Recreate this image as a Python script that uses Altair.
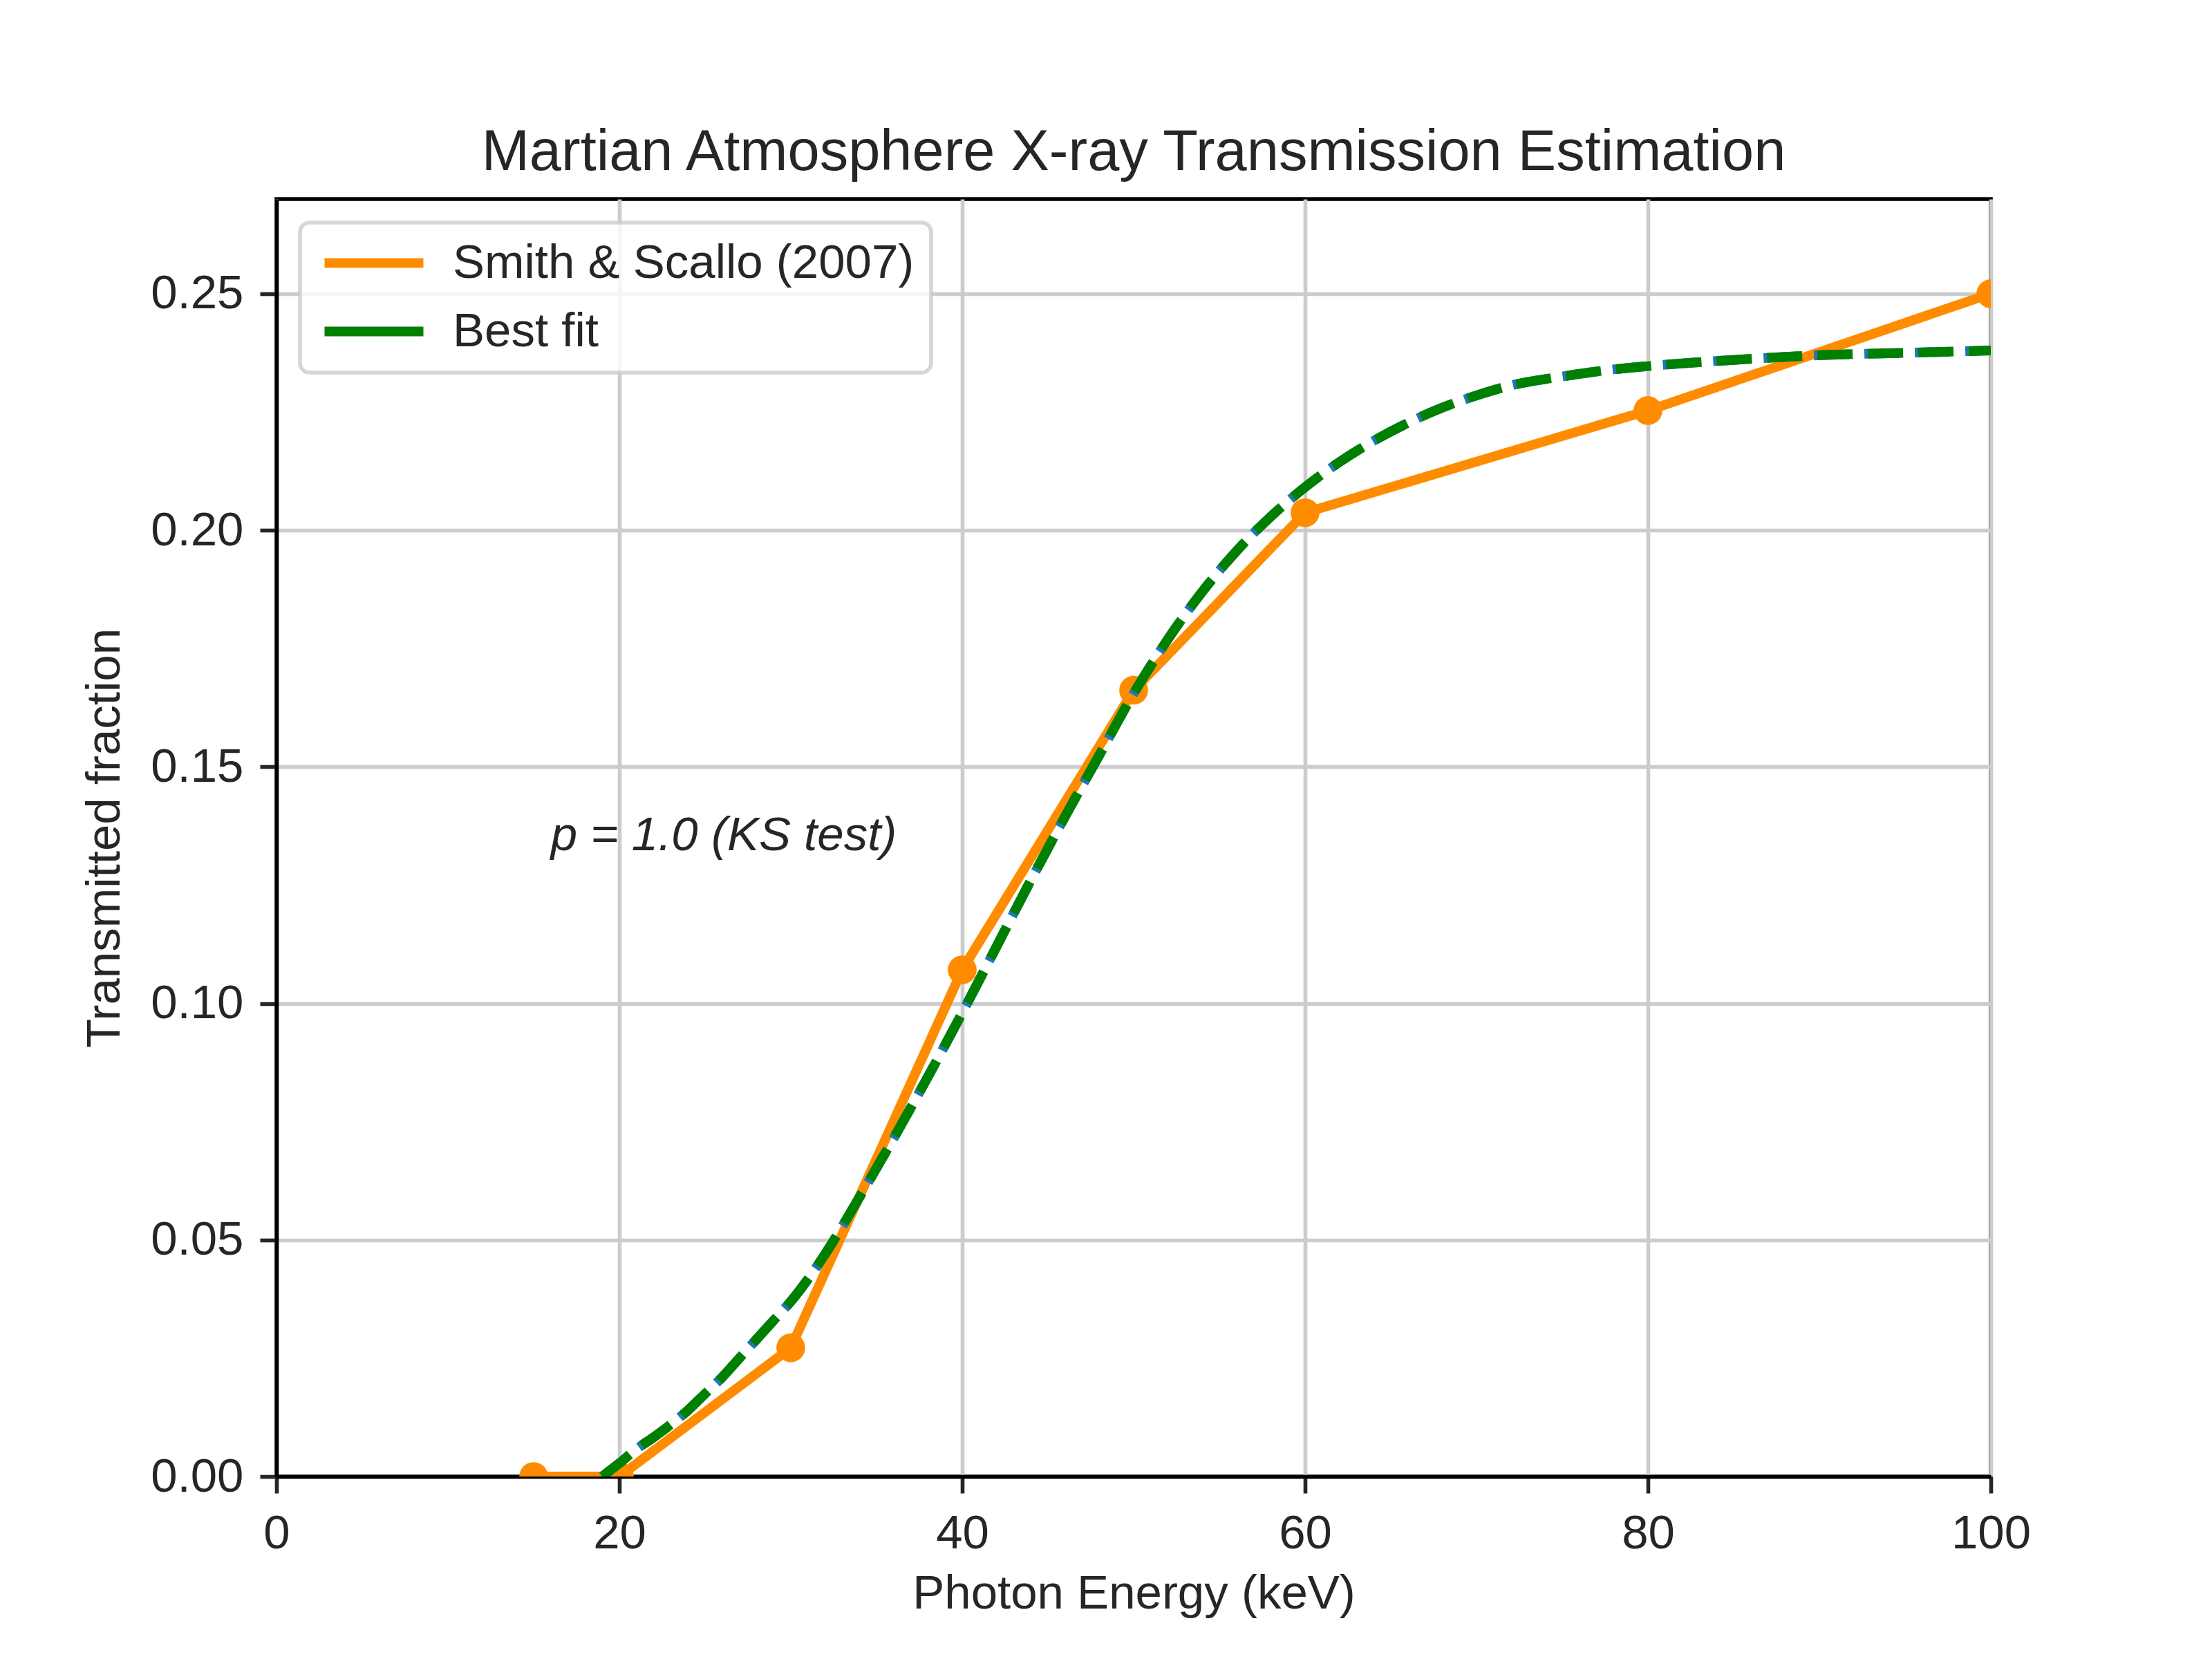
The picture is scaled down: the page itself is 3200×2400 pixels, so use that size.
import altair as alt
import pandas as pd

# ---- data ----
energy_kev = [15, 20, 30, 40, 50, 60, 80, 100]
transmitted = [0.0, 0.0, 0.0272, 0.1071, 0.1662, 0.2037, 0.2253, 0.2500]

fit_energy = [19, 20, 21, 22, 23, 24, 25, 26, 27, 28, 29, 30, 32, 34, 36, 38, 40,
              42, 44, 46, 48, 50, 52, 54, 56, 58, 60, 62, 64, 66, 68, 70, 72, 75,
              78, 80, 85, 90, 95, 100]
fit_transmitted = [0.0, 0.0028, 0.0058, 0.0083, 0.011, 0.014, 0.0175, 0.021, 0.025,
                   0.029, 0.033, 0.037, 0.047, 0.059, 0.0715, 0.0845, 0.098, 0.112,
                   0.126, 0.1395, 0.1525, 0.1655, 0.177, 0.187, 0.1956, 0.2029,
                   0.2091, 0.2144, 0.2189, 0.2227, 0.2259, 0.2285, 0.2306, 0.2325,
                   0.234, 0.2347, 0.236, 0.237, 0.2375, 0.238]

series_names = ["Smith & Scallo (2007)", "Best fit"]
series_colors = ["#ff8c00", "#008000"]
under_color = "#1f77b4"

x_ticks = [0, 20, 40, 60, 80, 100]
y_ticks = [0.0, 0.05, 0.10, 0.15, 0.20, 0.25]

title_text = "Martian Atmosphere X-ray Transmission Estimation"
x_title = "Photon Energy (keV)"
y_title = "Transmitted fraction"
note_text = ["p = 1.0 (KS test)"]
note_x = [16]
note_y = [0.1323]

FONT = "Liberation Sans, Arial, Helvetica, sans-serif"
TXT = "#262626"

obs = pd.DataFrame({"energy": energy_kev, "value": transmitted,
                    "series": [series_names[0]] * len(energy_kev)})
fit = pd.DataFrame({"energy": fit_energy, "value": fit_transmitted})
note = pd.DataFrame({"energy": note_x, "value": note_y, "label": note_text})

x_enc = alt.X("energy:Q",
              scale=alt.Scale(domain=[0, 100], nice=False, zero=False),
              axis=alt.Axis(values=x_ticks, format="d", title=x_title, titlePadding=18,
                            labelFlush=False))
y_enc = alt.Y("value:Q",
              scale=alt.Scale(domain=[0, 0.27], nice=False, zero=False),
              axis=alt.Axis(values=y_ticks, format=".2f", title=y_title, titlePadding=31,
                            labelFlush=False))

obs_line = alt.Chart(obs).mark_line(strokeWidth=14, strokeJoin="round", clip=True).encode(
    x=x_enc, y=y_enc,
    color=alt.Color("series:N",
                    scale=alt.Scale(domain=series_names, range=series_colors),
                    legend=alt.Legend(title=None, orient="top-left", offset=34, padding=24,
                                      fillColor="rgba(255,255,255,0.8)",
                                      strokeColor="rgba(204,204,204,0.8)",
                                      cornerRadius=14, symbolType="M-4,0H4",
                                      symbolSize=1278, symbolStrokeWidth=14,
                                      symbolOffset=48.5, symbolDash=[4000, 1],
                                      symbolOpacity=1,
                                      labelFontSize=69, labelFont=FONT, labelColor=TXT,
                                      labelOffset=79.5, rowPadding=29, labelLimit=3000)),
)

obs_pts = alt.Chart(obs).mark_circle(size=1736, opacity=1, color=series_colors[0],
                                     clip=True).encode(x="energy:Q", y="value:Q")

fit_under = alt.Chart(fit).mark_line(color=under_color, strokeWidth=14,
                                     strokeDashOffset=5, interpolate="monotone",
                                     clip=True).encode(
    x="energy:Q", y="value:Q", strokeDash=alt.value([51, 22]))
fit_line = alt.Chart(fit).mark_line(color=series_colors[1], strokeWidth=14,
                                    interpolate="monotone", clip=True).encode(
    x="energy:Q", y="value:Q", strokeDash=alt.value([51, 22]))

note_mark = alt.Chart(note).mark_text(align="left", baseline="alphabetic",
                                      fontStyle="italic", fontSize=69, font=FONT,
                                      color=TXT).encode(
    x="energy:Q", y="value:Q", text="label:N")

chart = alt.layer(obs_line, obs_pts, fit_under, fit_line, note_mark).properties(
    width=2480, height=1848,
    autosize=alt.AutoSizeParams(type="none"),
    padding={"left": 392, "top": 280, "right": 312, "bottom": 256},
    title=alt.TitleParams(title_text, fontSize=83, font=FONT, color=TXT,
                          fontWeight="normal", anchor="middle", frame="group",
                          offset=25, baseline="bottom", dy=83),
).configure_view(
    stroke="black", strokeWidth=5.6
).configure_axis(
    gridColor="#cccccc", gridWidth=5.6, grid=True,
    domainColor="black", domainWidth=5.6,
    tickColor=TXT, tickWidth=5.6, tickSize=24,
    labelPadding=24, labelFontSize=69, labelFont=FONT, labelColor=TXT,
    titleFontSize=69, titleFont=FONT, titleColor=TXT, titleFontWeight="normal",
    zindex=1,
).configure_legend(strokeWidth=5.6)

chart.save("out.html", embed_options={"renderer": "svg", "actions": False})
